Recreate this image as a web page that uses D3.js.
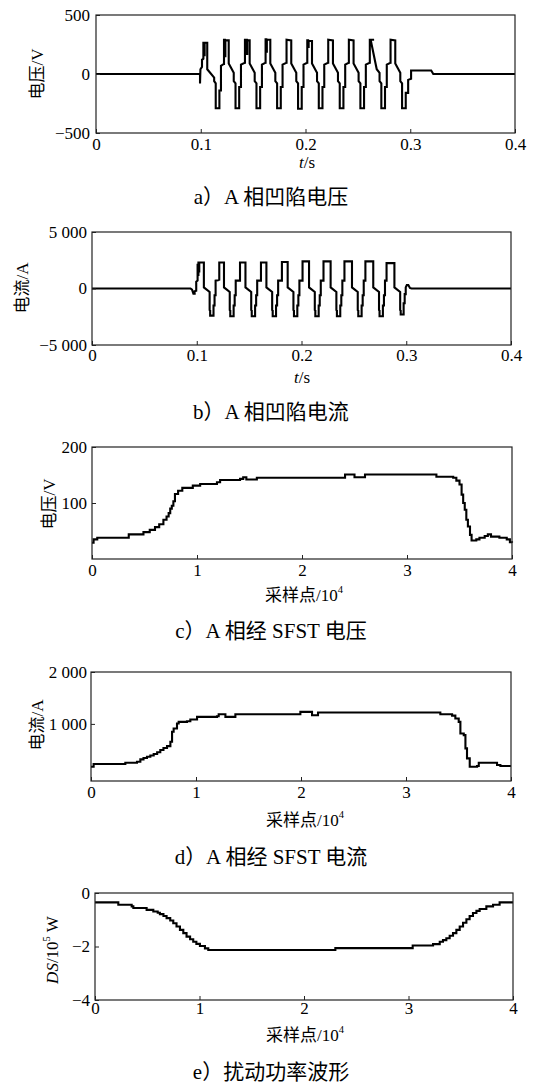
<!DOCTYPE html>
<html><head><meta charset="utf-8">
<script src="https://cdn.jsdelivr.net/npm/d3@7"></script>
<style>
html,body{margin:0;padding:0;background:#fff;}
svg{display:block;}
svg text{font-family:"Liberation Serif","Noto Sans CJK SC",serif !important;fill:#000;}
</style></head><body>
<svg id="chart" width="547" height="1086"></svg>
<script>
// ---------- tick values and labels ----------
const timeTicks = [0, 0.1, 0.2, 0.3, 0.4];
const timeTickLabels = ["0", "0.1", "0.2", "0.3", "0.4"];
const sampleTicks = [0, 1, 2, 3, 4];
const sampleTickLabels = ["0", "1", "2", "3", "4"];
const voltTicksA = [-500, 0, 500];
const voltTickLabelsA = ["\u2212500", "0", "500"];
const currTicksB = [-5000, 0, 5000];
const currTickLabelsB = ["\u22125 000", "0", "5 000"];
const voltTicksC = [100, 200];
const voltTickLabelsC = ["100", "200"];
const currTicksD = [1000, 2000];
const currTickLabelsD = ["1 000", "2 000"];
const powerTicksE = [-4, -2, 0];
const powerTickLabelsE = ["\u22124", "\u22122", "0"];

const captions = ["a\uFF09A 相凹陷电压", "b\uFF09A 相凹陷电流", "c\uFF09A 相经 SFST 电压", "d\uFF09A 相经 SFST 电流", "e\uFF09扰动功率波形"];

// ---------- series: [t (s), voltage (V)] ----------
const sagVoltage = [
[0,0],[0.0988,0],[0.0993,-10],[0.0993,-80],[0.0997,40],[0.1012,60],[0.1012,120],[0.1025,130],[0.1025,265],[0.1031,265],[0.1031,160],[0.1037,160],[0.1037,265],[0.1062,265],[0.1062,40],[0.1128,-30],[0.1128,-60],[0.1143,-80],[0.1143,-290],[0.1178,-290],[0.1178,-140],[0.1193,-140],[0.1193,70],[0.1220,85],
[0.1222,85],[0.1222,290],[0.1230,290],[0.1230,150],[0.1235,150],[0.1235,285],[0.1267,285],[0.1267,90],[0.1315,10],[0.1315,-60],[0.1332,-80],[0.1332,-290],[0.1367,-290],[0.1367,-110],[0.1384,-110],[0.1384,80],[0.1420,95],
[0.1422,95],[0.1422,290],[0.1440,290],[0.1440,170],[0.1444,170],[0.1444,285],[0.1467,285],[0.1467,90],[0.1515,10],[0.1515,-60],[0.1532,-80],[0.1532,-290],[0.1567,-290],[0.1567,-110],[0.1584,-110],[0.1584,80],[0.1617,95],
[0.1619,95],[0.1619,295],[0.1626,295],[0.1626,190],[0.1631,190],[0.1631,290],[0.1664,290],[0.1664,90],[0.1712,10],[0.1712,-60],[0.1729,-80],[0.1729,-290],[0.1764,-290],[0.1764,-110],[0.1781,-110],[0.1781,80],[0.1817,95],
[0.1819,95],[0.1819,290],[0.1864,285],[0.1864,90],[0.1912,10],[0.1912,-60],[0.1929,-80],[0.1929,-295],[0.1964,-295],[0.1964,-110],[0.1981,-110],[0.1981,80],[0.2015,95],
[0.2017,95],[0.2017,285],[0.2025,285],[0.2025,230],[0.2030,230],[0.2030,280],[0.2062,280],[0.2062,90],[0.2110,10],[0.2110,-60],[0.2127,-80],[0.2127,-290],[0.2162,-290],[0.2162,-110],[0.2179,-110],[0.2179,80],[0.2215,95],
[0.2217,95],[0.2217,290],[0.2262,285],[0.2262,90],[0.2310,10],[0.2310,-60],[0.2327,-80],[0.2327,-290],[0.2362,-290],[0.2362,-110],[0.2379,-110],[0.2379,80],[0.2412,95],
[0.2414,95],[0.2414,290],[0.2459,285],[0.2459,90],[0.2507,10],[0.2507,-60],[0.2524,-80],[0.2524,-290],[0.2559,-290],[0.2559,-110],[0.2576,-110],[0.2576,80],[0.2612,95],
[0.2614,95],[0.2614,290],[0.2655,290],[0.2622,290],[0.2680,40],[0.2707,10],[0.2707,-60],[0.2724,-80],[0.2724,-290],[0.2759,-290],[0.2759,-110],[0.2776,-110],[0.2776,80],[0.2810,95],
[0.2812,95],[0.2812,290],[0.2857,285],[0.2857,90],[0.2905,10],[0.2905,-60],[0.2922,-80],[0.2922,-290],[0.2957,-290],[0.2957,-160],[0.2980,-160],[0.2980,-50],[0.3008,-40],[0.3008,30],[0.3200,30],[0.3220,0],[0.4,0]
];

// ---------- series: [t (s), current (A)] ----------
const sagCurrent = [
[0,0],[0.0940,0],[0.0955,-100],[0.0968,-450],[0.0980,-450],[0.0980,-250],[0.0995,-200],[0.0995,600],[0.1008,700],[0.1008,2100],[0.1012,2100],[0.1012,1200],[0.1016,1200],[0.1016,2300],[0.1020,2300],[0.1020,1500],[0.1024,1500],[0.1024,2300],[0.1068,2300],[0.1068,100],[0.1123,-300],[0.1123,-1900],[0.1128,-1950],[0.1128,-2400],[0.1160,-2400],[0.1160,-1500],[0.1170,-1500],[0.1170,-600],[0.1180,-600],[0.1180,700],[0.1213,750],
[0.1215,700],[0.1215,2300],[0.1260,2300],[0.1260,100],[0.1315,-300],[0.1315,-1900],[0.1320,-1950],[0.1320,-2450],[0.1352,-2450],[0.1352,-1500],[0.1362,-1500],[0.1362,-600],[0.1372,-600],[0.1372,700],
[0.1413,700],[0.1413,2300],[0.1465,2300],[0.1465,100],[0.1520,-300],[0.1520,-1900],[0.1525,-1950],[0.1525,-2450],[0.1557,-2450],[0.1557,-1500],[0.1567,-1500],[0.1567,-600],[0.1577,-600],[0.1577,700],
[0.1613,700],[0.1613,2300],[0.1665,2300],[0.1665,100],[0.1720,-300],[0.1720,-1900],[0.1725,-1950],[0.1725,-2450],[0.1757,-2450],[0.1757,-1500],[0.1767,-1500],[0.1767,-600],[0.1777,-600],[0.1777,700],
[0.1813,700],[0.1813,2350],[0.1868,2350],[0.1868,100],[0.1923,-300],[0.1923,-1900],[0.1928,-1950],[0.1928,-2450],[0.1960,-2450],[0.1960,-1500],[0.1970,-1500],[0.1970,-600],[0.1980,-600],[0.1980,700],
[0.2010,700],[0.2010,2400],[0.2072,2400],[0.2072,100],[0.2127,-300],[0.2127,-1900],[0.2132,-1950],[0.2132,-2450],[0.2164,-2450],[0.2164,-1500],[0.2174,-1500],[0.2174,-600],[0.2184,-600],[0.2184,700],
[0.2210,700],[0.2210,2400],[0.2278,2400],[0.2278,100],[0.2333,-300],[0.2333,-1900],[0.2338,-1950],[0.2338,-2450],[0.2370,-2450],[0.2370,-1500],[0.2380,-1500],[0.2380,-600],[0.2390,-600],[0.2390,700],
[0.2410,700],[0.2410,2400],[0.2482,2400],[0.2482,100],[0.2537,-300],[0.2537,-1900],[0.2542,-1950],[0.2542,-2450],[0.2574,-2450],[0.2574,-1500],[0.2584,-1500],[0.2584,-600],[0.2594,-600],[0.2594,700],
[0.2610,700],[0.2610,2400],[0.2685,2400],[0.2685,100],[0.2740,-300],[0.2740,-1900],[0.2745,-1950],[0.2745,-2450],[0.2777,-2450],[0.2777,-1500],[0.2787,-1500],[0.2787,-600],[0.2797,-600],[0.2797,700],
[0.2812,700],[0.2812,2250],[0.2887,2250],[0.2887,100],[0.2942,-300],[0.2942,-1900],[0.2947,-1950],[0.2947,-2300],[0.2975,-2300],[0.2975,-1300],[0.2985,-1300],[0.2985,-500],[0.2995,-500],[0.2995,100],[0.3005,300],[0.3020,300],[0.3035,50],[0.3050,0],[0.4,0]
];

// ---------- series: [sample (1e4), value] ----------
const sfstVoltage = [
[0,29],[0.015,35],[0.05,38],[0.35,44],[0.49,48],[0.55,52],[0.6,57],[0.64,62],[0.68,70],[0.71,76],[0.73,82],[0.745,90],[0.76,95],[0.775,103],[0.79,116],[0.82,122],[0.86,127],[0.96,131],[1.03,134],[1.19,137],[1.22,141],[1.41,143],[1.44,146],[1.47,142],[1.57,145],[2.38,145],[2.41,151],[2.47,151],[2.5,146],[2.57,146],[2.6,151],[3.25,151],[3.28,147],[3.44,145],[3.47,140],[3.50,133],[3.52,115],[3.535,100],[3.55,88],[3.565,70],[3.58,58],[3.60,43],[3.615,33],[3.66,35],[3.69,38],[3.74,41],[3.77,44],[3.80,40],[3.88,38],[3.95,35],[3.98,30],[4,29]
];
const sfstCurrent = [
[0,175],[0.025,227],[0.327,252],[0.438,271],[0.47,316],[0.5,342],[0.533,367],[0.565,390],[0.597,419],[0.63,455],[0.66,496],[0.69,535],[0.724,572],[0.756,656],[0.772,848],[0.787,912],[0.819,1008],[0.835,1040],[0.914,1052],[0.946,1085],[1.01,1136],[1.2,1148],[1.216,1187],[1.28,1136],[1.375,1187],[1.994,1232],[2.105,1168],[2.162,1219],[3.327,1187],[3.439,1160],[3.470,1104],[3.502,1040],[3.518,816],[3.55,784],[3.566,528],[3.581,336],[3.607,175],[3.677,188],[3.693,252],[3.835,252],[3.867,208],[3.899,188],[4,188]
];
const disturbPower = [
[0,-0.35],[0.223,-0.44],[0.351,-0.5],[0.367,-0.56],[0.494,-0.63],[0.558,-0.69],[0.6,-0.74],[0.621,-0.79],[0.655,-0.86],[0.685,-0.94],[0.72,-1.03],[0.749,-1.13],[0.78,-1.25],[0.813,-1.38],[0.845,-1.5],[0.876,-1.63],[0.91,-1.73],[0.94,-1.82],[0.97,-1.9],[1.004,-1.98],[1.052,-2.07],[1.084,-2.13],[2.30,-2.06],[3.04,-1.96],[3.235,-1.91],[3.299,-1.82],[3.33,-1.76],[3.362,-1.69],[3.394,-1.6],[3.426,-1.5],[3.458,-1.38],[3.49,-1.25],[3.522,-1.11],[3.554,-0.98],[3.585,-0.86],[3.617,-0.75],[3.65,-0.67],[3.681,-0.6],[3.745,-0.5],[3.809,-0.44],[3.872,-0.35],[4,-0.35]
];

// ---------- layout ----------
const tLabel = [{t:"t",it:true},{t:"/s"}];
const sLabel = [{t:"采样点/10"},{t:"4",sup:true}];
const panels = [
  {data:sagVoltage, L:96,R:515,T:15,B:133, xd:[0,0.4], yd:[-500,500], xt:timeTicks, xtl:timeTickLabels, yt:voltTicksA, ytl:voltTickLabelsA, step:false,
   ylab:[{t:"电压/V"}], ylx:37, yly:74, xlab:tLabel, xlx:307, xly:162, capy:197, xpad:5, ypad:6},
  {data:sagCurrent, L:92,R:511,T:232,B:345, xd:[0,0.4], yd:[-5000,5000], xt:timeTicks, xtl:timeTickLabels, yt:currTicksB, ytl:currTickLabelsB, step:false,
   ylab:[{t:"电流/A"}], ylx:22, yly:288, xlab:tLabel, xlx:302, xly:377, capy:412, xpad:4, ypad:5},
  {data:sfstVoltage, L:92,R:512,T:447,B:559, xd:[0,4], yd:[0,200], xt:sampleTicks, xtl:sampleTickLabels, yt:voltTicksC, ytl:voltTickLabelsC, step:true,
   ylab:[{t:"电压/V"}], ylx:49, yly:504, xlab:sLabel, xlx:304, xly:595, capy:631, xpad:5, ypad:5},
  {data:sfstCurrent, L:91,R:511,T:672,B:781, xd:[0,4], yd:[-100,2000], xt:sampleTicks, xtl:sampleTickLabels, yt:currTicksD, ytl:currTickLabelsD, step:true,
   ylab:[{t:"电流/A"}], ylx:37, yly:725, xlab:sLabel, xlx:305, xly:820, capy:857, xpad:5, ypad:4},
  {data:disturbPower, L:95,R:513,T:893,B:1000, xd:[0,4], yd:[-4,0], xt:sampleTicks, xtl:sampleTickLabels, yt:powerTicksE, ytl:powerTickLabelsE, step:true,
   ylab:[{t:"DS",it:true},{t:"/10"},{t:"5",sup:true},{t:" W"}], ylx:52, yly:950, xlab:sLabel, xlx:305, xly:1035, capy:1072, xpad:2, ypad:5}
];

const svg = d3.select("#chart");

function richText(sel, parts) {
  parts.forEach((p, i) => {
    const prevSup = i > 0 && parts[i-1].sup;
    const ts = sel.append("tspan").text(p.t);
    if (p.it) ts.attr("font-style", "italic");
    if (p.sup) ts.attr("font-size", "0.62em").attr("dy", "-0.55em");
    else if (prevSup) ts.attr("dy", "0.34em");
  });
}

panels.forEach((p, k) => {
  const g = svg.append("g");
  const x = d3.scaleLinear().domain(p.xd).range([p.L, p.R]);
  const y = d3.scaleLinear().domain(p.yd).range([p.B, p.T]);

  const line = d3.line().x(d => x(d[0])).y(d => y(d[1]))
    .curve(p.step ? d3.curveStepAfter : d3.curveLinear);
  g.append("path").datum(p.data).attr("d", line)
    .attr("fill", "none").attr("stroke", "#000").attr("stroke-width", 2.1)
    .attr("stroke-linejoin", "miter").attr("stroke-miterlimit", 2);

  const xa = g.append("g").attr("transform", `translate(0,${p.B})`)
    .call(d3.axisBottom(x).tickValues(p.xt).tickFormat((d, i) => p.xtl[i]).tickSize(-4).tickPadding(p.xpad));
  const ya = g.append("g").attr("transform", `translate(${p.L},0)`)
    .call(d3.axisLeft(y).tickValues(p.yt).tickFormat((d, i) => p.ytl[i]).tickSize(-4).tickPadding(p.ypad));
  [xa, ya].forEach(a => {
    a.attr("font-family", null).attr("font-size", null);
    a.select(".domain").remove();
    a.selectAll(".tick line").attr("stroke", "#222").attr("stroke-width", 1);
    a.selectAll(".tick text").attr("font-size", 17).attr("fill", "#000");
  });

  g.append("rect").attr("x", p.L).attr("y", p.T).attr("width", p.R - p.L).attr("height", p.B - p.T)
    .attr("fill", "none").attr("stroke", "#222").attr("stroke-width", 1.2);

  const yl = g.append("text").attr("transform", `translate(${p.ylx},${p.yly}) rotate(-90)`)
    .attr("text-anchor", "middle").attr("dominant-baseline", "central").attr("font-size", 17);
  richText(yl, p.ylab);

  const xl = g.append("text").attr("x", p.xlx).attr("y", p.xly)
    .attr("text-anchor", "middle").attr("dominant-baseline", "central").attr("font-size", 17);
  richText(xl, p.xlab);

  g.append("text").attr("x", 271).attr("y", p.capy).attr("text-anchor", "middle")
    .attr("dominant-baseline", "central").attr("font-size", 21).text(captions[k]);
});
</script>
</body></html>
